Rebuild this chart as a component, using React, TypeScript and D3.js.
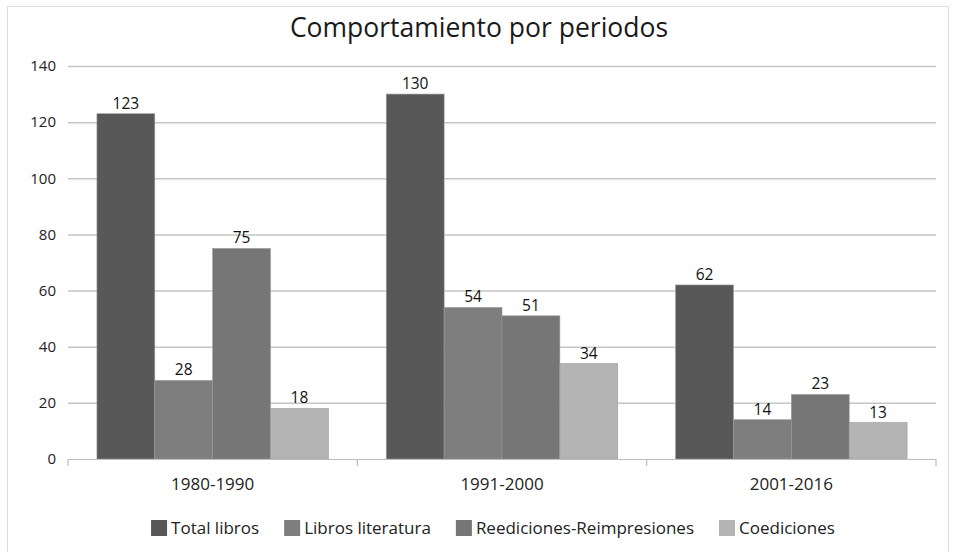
import * as React from "react";
import * as d3 from "d3";

const periods = ["1980-1990", "1991-2000", "2001-2016"];
const seriesNames = ["Total libros", "Libros literatura", "Reediciones-Reimpresiones", "Coediciones"];
const totalLibros = [123, 130, 62];
const librosLiteratura = [28, 54, 14];
const reediciones = [75, 51, 23];
const coediciones = [18, 34, 13];
const yTicks = [0, 20, 40, 60, 80, 100, 120, 140];

const seriesColors = ["#585858", "#7e7e7e", "#767676", "#b4b4b4"];
const FONT = "'Open Sans', 'Liberation Sans', sans-serif";

export default function App() {
  const ref = React.useRef<SVGSVGElement>(null);

  React.useEffect(() => {
    const width = 953;
    const height = 552;
    const margin = { top: 66, right: 17, bottom: 93, left: 68 };
    const innerW = width - margin.left - margin.right;
    const innerH = height - margin.top - margin.bottom;

    const allSeries = [totalLibros, librosLiteratura, reediciones, coediciones];
    const table = periods.map((p, i) => ({
      period: p,
      values: allSeries.map((s, j) => ({ key: seriesNames[j], idx: j, value: s[i] })),
    }));

    const svg = d3.select(ref.current);
    svg.selectAll("*").remove();

    svg.append("rect")
      .attr("width", width)
      .attr("height", height)
      .attr("fill", "#ffffff");

    // outer frame (no bottom edge visible)
    svg.append("path")
      .attr("d", "M7.5,560 V6.5 H948.5 V560")
      .attr("fill", "none")
      .attr("stroke", "#dcdcdc")
      .attr("stroke-width", 1);

    svg.append("text")
      .attr("x", 479)
      .attr("y", 37)
      .attr("text-anchor", "middle")
      .style("font-family", FONT)
      .style("font-size", "26.5px")
      .style("fill", "#1a1a1a")
      .text("Comportamiento por periodos");

    const g = svg.append("g")
      .attr("transform", "translate(" + margin.left + "," + margin.top + ")");

    const y = d3.scaleLinear().domain([0, 140]).range([innerH, 0]);
    const x0 = d3.scaleBand().domain(periods).range([0, innerW]).padding(0);
    const x1 = d3.scaleBand()
      .domain(seriesNames)
      .range([x0.bandwidth() * 0.1, x0.bandwidth() * 0.9])
      .padding(0);

    // gridlines
    g.selectAll("line.grid")
      .data(yTicks.filter(t => t > 0))
      .enter()
      .append("line")
      .classed("grid", true)
      .attr("x1", 0)
      .attr("x2", innerW)
      .attr("y1", d => y(d) + 0.5)
      .attr("y2", d => y(d) + 0.5)
      .attr("stroke", "#c6c6c6")
      .attr("stroke-width", 1.5);

    // y labels
    g.selectAll("text.ytick")
      .data(yTicks)
      .enter()
      .append("text")
      .classed("ytick", true)
      .attr("x", -12)
      .attr("y", d => y(d))
      .attr("dy", "0.35em")
      .attr("text-anchor", "end")
      .style("font-family", FONT)
      .style("font-size", "15px")
      .style("fill", "#222")
      .text(d => d);

    const groups = g.selectAll("g.period")
      .data(table)
      .enter()
      .append("g")
      .classed("period", true)
      .attr("transform", d => "translate(" + x0(d.period) + ",0)");

    groups.selectAll("rect")
      .data(d => d.values)
      .enter()
      .append("rect")
      .attr("x", d => x1(d.key)!)
      .attr("y", d => y(d.value))
      .attr("width", x1.bandwidth())
      .attr("height", d => innerH - y(d.value))
      .attr("fill", d => seriesColors[d.idx])
      .attr("stroke", "#9a9a9a")
      .attr("stroke-width", 0.6);

    groups.selectAll("text.val")
      .data(d => d.values)
      .enter()
      .append("text")
      .classed("val", true)
      .attr("x", d => x1(d.key)! + x1.bandwidth() / 2)
      .attr("y", d => y(d.value) - 5)
      .attr("text-anchor", "middle")
      .style("font-family", FONT)
      .style("font-size", "15.5px")
      .style("fill", "#111")
      .text(d => d.value);

    // x axis
    const xAxisG = g.append("g").attr("transform", "translate(0," + innerH + ")");
    xAxisG.append("line")
      .attr("x1", 0)
      .attr("x2", innerW)
      .attr("y1", 0.5)
      .attr("y2", 0.5)
      .attr("stroke", "#bdbdbd")
      .attr("stroke-width", 1.2);

    const tickXs = periods.map(p => x0(p)!).concat([innerW]);
    xAxisG.selectAll("line.xt")
      .data(tickXs)
      .enter()
      .append("line")
      .classed("xt", true)
      .attr("x1", d => d)
      .attr("x2", d => d)
      .attr("y1", 0)
      .attr("y2", 7)
      .attr("stroke", "#bdbdbd")
      .attr("stroke-width", 1.2);

    xAxisG.selectAll("text.xl")
      .data(periods)
      .enter()
      .append("text")
      .classed("xl", true)
      .attr("x", d => x0(d)! + x0.bandwidth() / 2)
      .attr("y", 31)
      .attr("text-anchor", "middle")
      .style("font-family", FONT)
      .style("font-size", "17px")
      .style("fill", "#222")
      .text(d => d);

    // legend
    const legend = svg.append("g").attr("transform", "translate(0,528)");
    const items = legend.selectAll("g.li")
      .data(seriesNames)
      .enter()
      .append("g")
      .classed("li", true);

    items.append("rect")
      .attr("x", 0)
      .attr("y", -8)
      .attr("width", 16)
      .attr("height", 16)
      .attr("fill", (d, i) => seriesColors[i]);

    items.append("text")
      .attr("x", 20)
      .attr("dy", "0.35em")
      .style("font-family", FONT)
      .style("font-size", "17px")
      .style("fill", "#222")
      .text(d => d);

    const gap = 25;
    const widths: number[] = [];
    items.each(function () {
      const t = (this as SVGGElement).querySelector("text") as SVGTextElement;
      widths.push(20 + t.getComputedTextLength());
    });
    const totalW = d3.sum(widths) + gap * (widths.length - 1);
    let cx = 493 - totalW / 2;
    items.attr("transform", (d, i) => {
      const tx = cx;
      cx += widths[i] + gap;
      return "translate(" + tx + ",0)";
    });
  }, []);

  return (
    <svg
      ref={ref}
      width={953}
      height={552}
      style={{ display: "block", position: "absolute", left: 0, top: 0 }}
    />
  );
}
